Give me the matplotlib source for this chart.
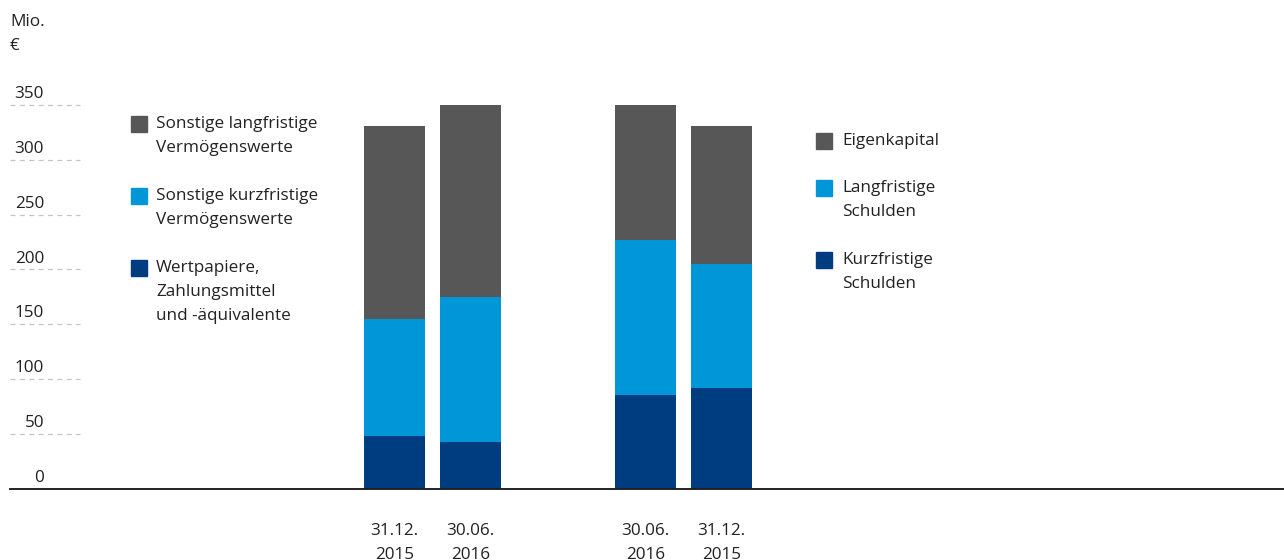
"""Stacked balance sheet bars: assets vs. equity and liabilities."""
import matplotlib.pyplot as plt
from matplotlib.patches import Rectangle

plt.rcParams['font.family'] = ['Open Sans', 'DejaVu Sans']

# Data (Mio. €)
dates = ['31.12.\n2015', '30.06.\n2016', '30.06.\n2016', '31.12.\n2015']
# bottom segment: Wertpapiere / Kurzfristige Schulden
bottom_vals = [48.3, 42.5, 85.5, 91.9]
# middle segment: sonstige kurzfristige Vermögenswerte / Langfristige Schulden
middle_vals = [106.6, 132.5, 141.6, 113.3]
# top segment: sonstige langfristige Vermögenswerte / Eigenkapital
top_vals = [176.1, 176.0, 123.9, 125.8]

asset_labels = ['Sonstige langfristige\nVermögenswerte',
                'Sonstige kurzfristige\nVermögenswerte',
                'Wertpapiere,\nZahlungsmittel\nund -äquivalente']
liability_labels = ['Eigenkapital',
                    'Langfristige\nSchulden',
                    'Kurzfristige\nSchulden']
y_ticks = [0, 50, 100, 150, 200, 250, 300, 350]

GRAY = '#575757'
LIGHT = '#0096D8'
DARK = '#003D80'
TEXT = '#222222'
FS = 12.3

W, H = 1284, 560


def fx(px):
    return px / W


def fy(py):
    return 1 - py / H


fig = plt.figure(figsize=(W / 100, H / 100), dpi=100)
ax = fig.add_axes([fx(10), fy(488.5), fx(1274), 383.5 / H])

positions = [0, 1, 3.30, 4.30]
width = 0.8
mid_bottom = [b for b in bottom_vals]
top_bottom = [b + m for b, m in zip(bottom_vals, middle_vals)]
ax.bar(positions, bottom_vals, width, color=DARK, zorder=2)
ax.bar(positions, middle_vals, width, bottom=mid_bottom, color=LIGHT, zorder=2)
ax.bar(positions, top_vals, width, bottom=top_bottom, color=GRAY, zorder=2)

ax.set_xlim(-5.06, 11.70)
ax.set_ylim(0, 350)

for side in ['top', 'right', 'left']:
    ax.spines[side].set_visible(False)
ax.spines['bottom'].set_color(TEXT)
ax.spines['bottom'].set_linewidth(1.4)
ax.spines['bottom'].set_zorder(3)

ax.set_yticks([])
ax.set_xticks(positions, dates)
ax.tick_params(axis='x', length=0, pad=25, labelsize=FS, labelcolor=TEXT)
for lbl in ax.get_xticklabels():
    lbl.set_linespacing(1.65)

# short dashed guides with labels above them
ytrans = ax.get_yaxis_transform()
ax.hlines(y_ticks[1:], 0, 70 / 1274, transform=ytrans, colors='#c4c4c4',
          linestyles=(0, (4, 3.5)), linewidth=0.9, clip_on=False)
for t in y_ticks:
    ax.annotate(str(t), xy=(34 / 1274, t), xycoords=ytrans,
                xytext=(0, 2), textcoords='offset points',
                ha='right', va='bottom', fontsize=FS, color=TEXT)

fig.text(fx(10), fy(34), 'Mio.\n€', ha='left', va='center', fontsize=FS,
         color=TEXT, linespacing=1.75)


def legend_block(x_box, x_text, y_firsts, labels, colors):
    for y0, label, col in zip(y_firsts, labels, colors):
        fig.add_artist(Rectangle((fx(x_box), fy(y0 + 8)), fx(16), 16 / H,
                                 transform=fig.transFigure, color=col))
        fig.text(fx(x_text), fy(y0 - 8), label, ha='left', va='top',
                 fontsize=FS, color=TEXT, linespacing=1.65)


legend_block(131, 156, [124, 196, 268], asset_labels, [GRAY, LIGHT, DARK])
legend_block(816, 842, [141, 188, 260], liability_labels, [GRAY, LIGHT, DARK])

fig.savefig('out.png', dpi=100)
